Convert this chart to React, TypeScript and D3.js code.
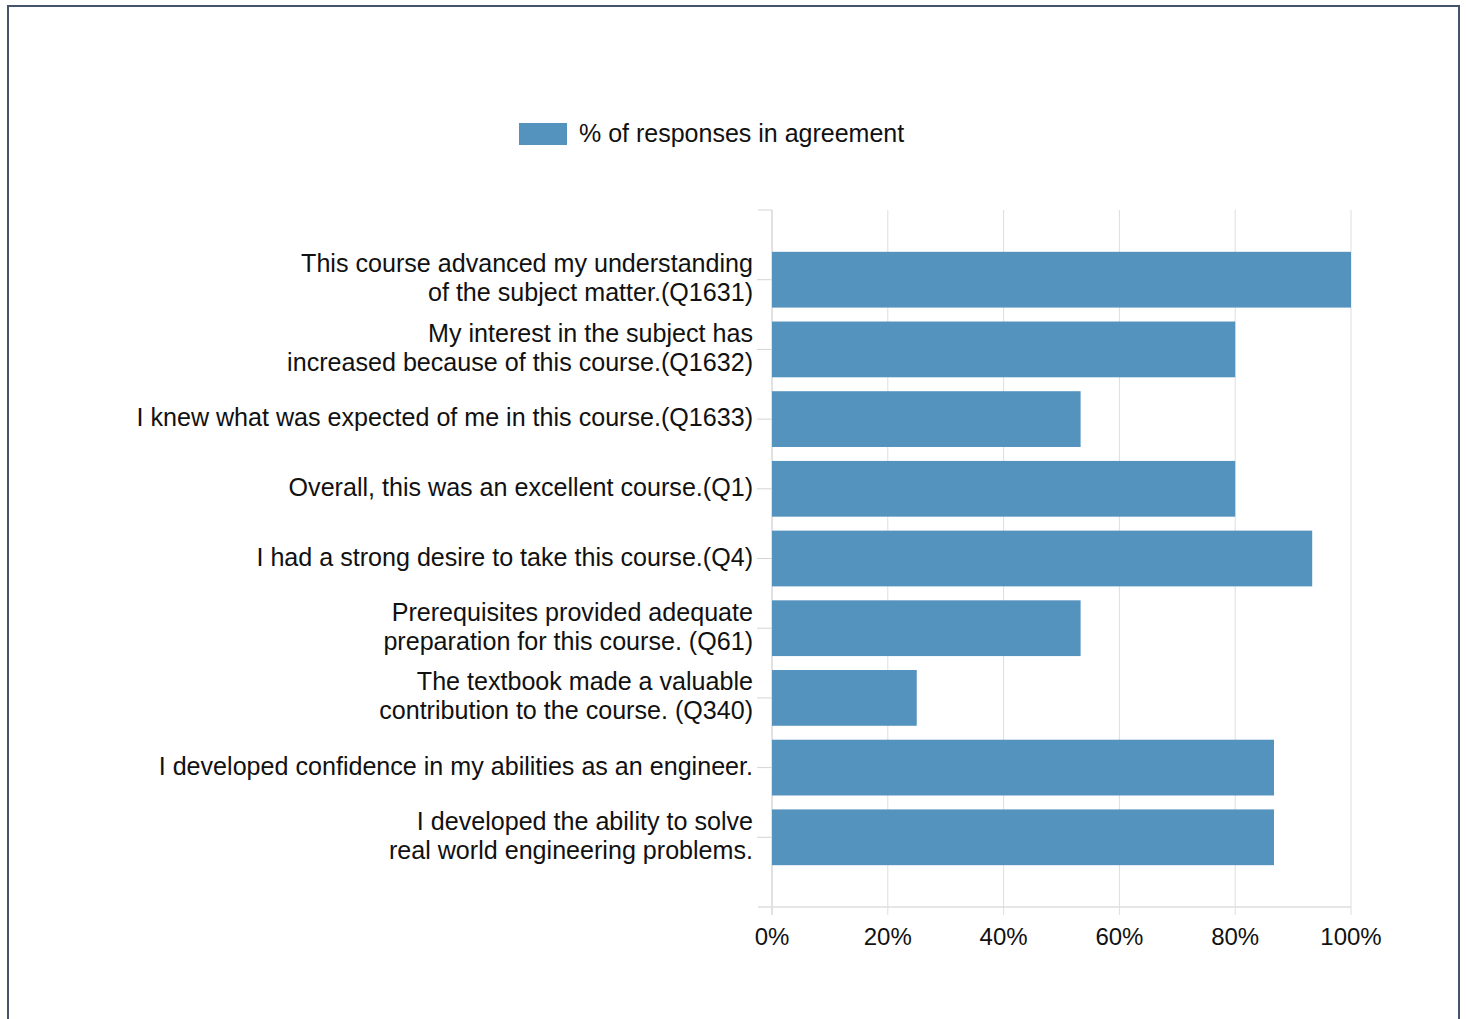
import React from "react";
import * as d3 from "d3";

const categories: string[][] = [
  ["This course advanced my understanding", "of the subject matter.(Q1631)"],
  ["My interest in the subject has", "increased because of this course.(Q1632)"],
  ["I knew what was expected of me in this course.(Q1633)"],
  ["Overall, this was an excellent course.(Q1)"],
  ["I had a strong desire to take this course.(Q4)"],
  ["Prerequisites provided adequate", "preparation for this course. (Q61)"],
  ["The textbook made a valuable", "contribution to the course. (Q340)"],
  ["I developed confidence in my abilities as an engineer."],
  ["I developed the ability to solve", "real world engineering problems."],
];
const values: number[] = [100, 80, 53.3, 80, 93.3, 53.3, 25, 86.7, 86.7];
const xTicks: number[] = [0, 20, 40, 60, 80, 100];
const legendLabel = "% of responses in agreement";

const W = 1466;
const H = 1019;
const left = 772;
const right = 1351;
const top = 210;
const bottom = 907;
const barColor = "#5593bf";
const font = "'Liberation Sans', Arial, sans-serif";

export default function App() {
  const x = d3.scaleLinear().domain([0, 100]).range([left, right]);
  const y = d3
    .scaleBand<number>()
    .domain(categories.map((_, i) => i))
    .range([top, bottom])
    .paddingInner(0.2)
    .paddingOuter(0.6);
  const bw = y.bandwidth();

  return (
    <svg
      width={W}
      height={H}
      style={{ position: "absolute", left: 0, top: 0, background: "#fff" }}
      fontFamily={font}
    >
      <rect x={0} y={0} width={W} height={H} fill="#fff" />
      {/* frame */}
      <path
        d={`M8,${H + 5} L8,6 L1459,6 L1459,${H + 5}`}
        fill="none"
        stroke="#44546a"
        strokeWidth={2}
      />
      {/* legend */}
      <rect x={519} y={123} width={48} height={22} fill={barColor} />
      <text x={579} y={133} fontSize={25} dominantBaseline="central" fill="#111">
        {legendLabel}
      </text>
      {/* gridlines */}
      {xTicks.map((t) => (
        <line
          key={"g" + t}
          x1={x(t)}
          x2={x(t)}
          y1={top}
          y2={bottom + 8}
          stroke={t === 0 ? "#c4c4c4" : "#dedede"}
          strokeWidth={1}
        />
      ))}
      <line x1={left - 14} x2={right} y1={bottom} y2={bottom} stroke="#dedede" strokeWidth={1.5} />
      <line x1={left - 14} x2={left} y1={top} y2={top} stroke="#d4d4d4" strokeWidth={1} />
      {/* category ticks */}
      {categories.map((_, i) => (
        <line
          key={"t" + i}
          x1={left - 15}
          x2={left}
          y1={(y(i) as number) + bw / 2}
          y2={(y(i) as number) + bw / 2}
          stroke="#d4d4d4"
          strokeWidth={1}
        />
      ))}
      {/* bars */}
      {values.map((v, i) => (
        <rect
          key={"b" + i}
          x={x(0)}
          y={y(i)}
          width={x(v) - x(0)}
          height={bw}
          fill={barColor}
        />
      ))}
      {/* category labels */}
      {categories.map((lines, i) => {
        const cy = (y(i) as number) + bw / 2;
        const lh = 29;
        return (
          <text
            key={"l" + i}
            x={753}
            textAnchor="end"
            fontSize={25.1}
            fill="#111"
            dominantBaseline="central"
          >
            {lines.map((ln, j) => (
              <tspan key={j} x={753} y={cy + (j - (lines.length - 1) / 2) * lh - 2}>
                {ln}
              </tspan>
            ))}
          </text>
        );
      })}
      {/* x tick labels */}
      {xTicks.map((t) => (
        <text
          key={"x" + t}
          x={x(t)}
          y={936}
          textAnchor="middle"
          dominantBaseline="central"
          fontSize={24}
          fill="#111"
        >
          {t + "%"}
        </text>
      ))}
    </svg>
  );
}
